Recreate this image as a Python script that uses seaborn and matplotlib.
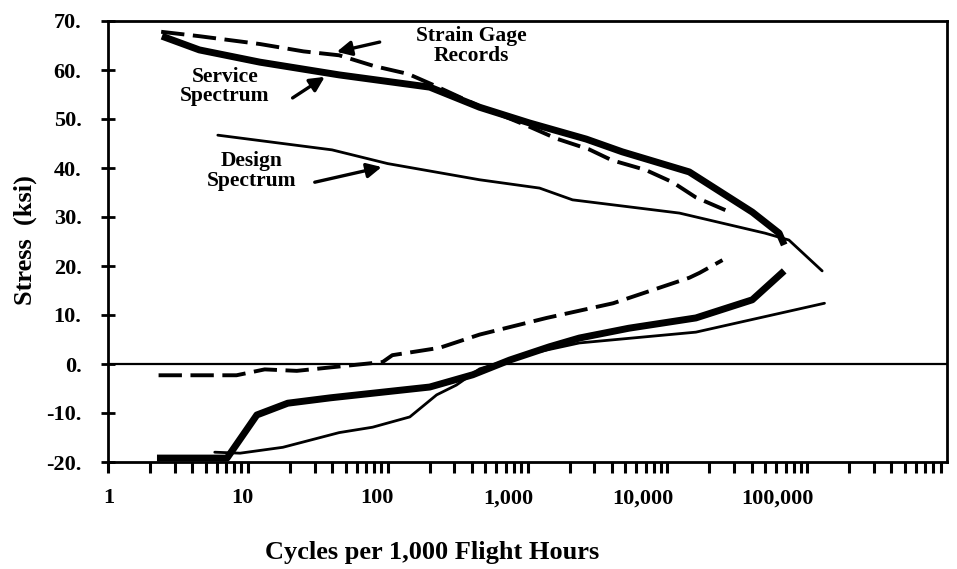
import numpy as np
import pandas as pd
import matplotlib
matplotlib.use("Agg")
import matplotlib.pyplot as plt
import matplotlib.transforms as mtransforms
from matplotlib.ticker import FixedLocator, NullFormatter
import seaborn as sns

# ---------------- data ----------------
service_upper_x = [2.43, 4.5, 12.2, 45, 200, 454, 1030, 2630, 4760, 14350, 40500, 63000, 68500]
service_upper_y = [66.9, 64.1, 61.6, 59.0, 56.5, 52.4, 49.2, 45.9, 43.3, 39.2, 31.0, 26.7, 24.3]

service_lower_x = [68500, 40500, 16000, 5300, 2350, 1430, 745, 406, 200, 39, 19.3, 11.6, 7.1, 2.24]
service_lower_y = [19.0, 13.1, 9.4, 7.3, 5.3, 3.5, 0.8, -2.2, -4.7, -6.9, -8.0, -10.4, -19.2, -19.2]

design_upper_x = [6.1, 40, 100, 454, 1220, 2100, 12200, 50000, 74000, 128000]
design_upper_y = [46.7, 43.7, 40.9, 37.6, 35.9, 33.5, 30.8, 26.7, 25.3, 19.0]

design_lower_x = [5.8, 8.8, 17.8, 45, 78, 144, 224, 310, 454, 1000, 2350, 16000, 133000]
design_lower_y = [-18.0, -18.2, -17.0, -14.0, -12.9, -10.8, -6.3, -4.3, -1.0, 2.0, 4.3, 6.5, 12.4]

gage_upper_x = [2.4, 4.5, 12.2, 25, 45, 80, 140, 210, 454, 1000, 1610, 2760, 4000, 7000, 10900, 16000, 26000]
gage_upper_y = [67.8, 66.9, 65.3, 63.8, 63.0, 60.8, 59.2, 57.0, 52.6, 48.6, 46.0, 43.8, 41.6, 39.6, 37.1, 34.0, 31.4]

gage_lower_x = [2.3, 8.3, 13.2, 22.4, 92, 108, 235, 454, 1370, 4100, 14350, 17000, 24800]
gage_lower_y = [-2.3, -2.3, -1.1, -1.4, 0.4, 1.8, 3.3, 6.0, 9.4, 12.4, 17.6, 18.6, 21.2]

zero_level = 0.0

y_ticks = [-20, -10, 0, 10, 20, 30, 40, 50, 60, 70]
y_tick_labels = ["-20.", "-10.", "0.", "10.", "20.", "30.", "40.", "50.", "60.", "70."]
x_ticks = [1, 10, 100, 1000, 10000, 100000]
x_tick_labels = ["1", "10", "100", "1,000", "10,000", "100,000"]

# ---------------- styling ----------------
sns.set_style("ticks")
plt.rcParams["font.family"] = ["Liberation Serif", "DejaVu Serif"]
plt.rcParams["font.weight"] = "bold"
for k in ["text.color", "axes.labelcolor", "xtick.color", "ytick.color", "axes.edgecolor"]:
    plt.rcParams[k] = "black"

fig = plt.figure(figsize=(9.57, 5.69), dpi=100)
ax = fig.add_axes([108 / 957, 1 - 462 / 569, (947 - 108) / 957, (462 - 21) / 569])

ax.set_xscale("log")
ax.set_xlim(1, 1e6)
ax.set_ylim(-20, 70)

# zero line
ax.axhline(zero_level, color="black", lw=1.6, zorder=1)

def seg(x, y, **kw):
    d = pd.DataFrame({"x": x, "y": y})
    sns.lineplot(data=d, x="x", y="y", sort=False, estimator=None, color="black",
                 ax=ax, legend=False, **kw)

# strain gage records (dashed)
seg(gage_upper_x, gage_upper_y, lw=2.8, linestyle=(0, (6, 2.2)), zorder=2)
seg(gage_lower_x, gage_lower_y, lw=2.8, linestyle=(0, (6, 2.2)), zorder=2)
# design spectrum (thin)
seg(design_upper_x, design_upper_y, lw=2.0, zorder=3, solid_joinstyle="round")
seg(design_lower_x, design_lower_y, lw=2.0, zorder=3, solid_joinstyle="round")
# service spectrum (thick)
seg(service_upper_x, service_upper_y, lw=5.0, zorder=4, solid_joinstyle="round",
    solid_capstyle="butt")
seg(service_lower_x, service_lower_y, lw=5.0, zorder=4, solid_joinstyle="round",
    solid_capstyle="butt")

# ---------------- axes, ticks ----------------
for s in ax.spines.values():
    s.set_linewidth(2.0)
    s.set_color("black")

ax.set_yticks(y_ticks)
ax.set_yticklabels(y_tick_labels, fontsize=16, fontweight="bold")
ax.tick_params(axis="y", direction="inout", length=10, width=2.0, pad=14, colors="black")

ax.xaxis.set_major_locator(FixedLocator(x_ticks))
ax.set_xticklabels(x_tick_labels, fontsize=16, fontweight="bold")
minor = [m * 10 ** k for k in range(0, 6) for m in range(2, 10)]
ax.xaxis.set_minor_locator(FixedLocator(minor))
ax.xaxis.set_minor_formatter(NullFormatter())
ax.tick_params(axis="x", which="both", direction="out", length=8, width=2.2, pad=11,
               colors="black")
offset = mtransforms.ScaledTranslation(6 / 100, 0, fig.dpi_scale_trans)
for lab in ax.get_xticklabels():
    lab.set_horizontalalignment("right")
    lab.set_transform(lab.get_transform() + offset)

ax.set_xlabel("")
ax.set_ylabel("")
fig.text(432 / 957, 1 - 553 / 569, "Cycles per 1,000 Flight Hours", ha="center", va="center",
         fontsize=19, fontweight="bold", color="black")
fig.text(25 / 957, 1 - 240 / 569, "Stress  (ksi)", ha="center", va="center", rotation=90,
         fontsize=19, fontweight="bold", color="black")

# ---------------- annotations ----------------
arrow = dict(arrowstyle="-|>", lw=2.4, color="black", mutation_scale=22, shrinkA=0, shrinkB=0)
ax.annotate("", xy=(43.2, 63.7), xytext=(87.7, 65.7), arrowprops=arrow)
ax.text(398, 64.9, "Strain Gage\nRecords", ha="center", va="center", fontsize=15.5,
        fontweight="bold", linespacing=0.95, color="black")
ax.annotate("", xy=(35.5, 58.6), xytext=(20.9, 54.3), arrowprops=arrow)
ax.text(6.85, 56.7, "Service\nSpectrum", ha="center", va="center", fontsize=15.5,
        fontweight="bold", linespacing=0.95, color="black")
ax.annotate("", xy=(90.6, 40.2), xytext=(30.1, 37.1), arrowprops=arrow)
ax.text(10.7, 39.4, "Design\nSpectrum", ha="center", va="center", fontsize=15.5,
        fontweight="bold", linespacing=0.95, color="black")

fig.savefig("out.png", dpi=100)
